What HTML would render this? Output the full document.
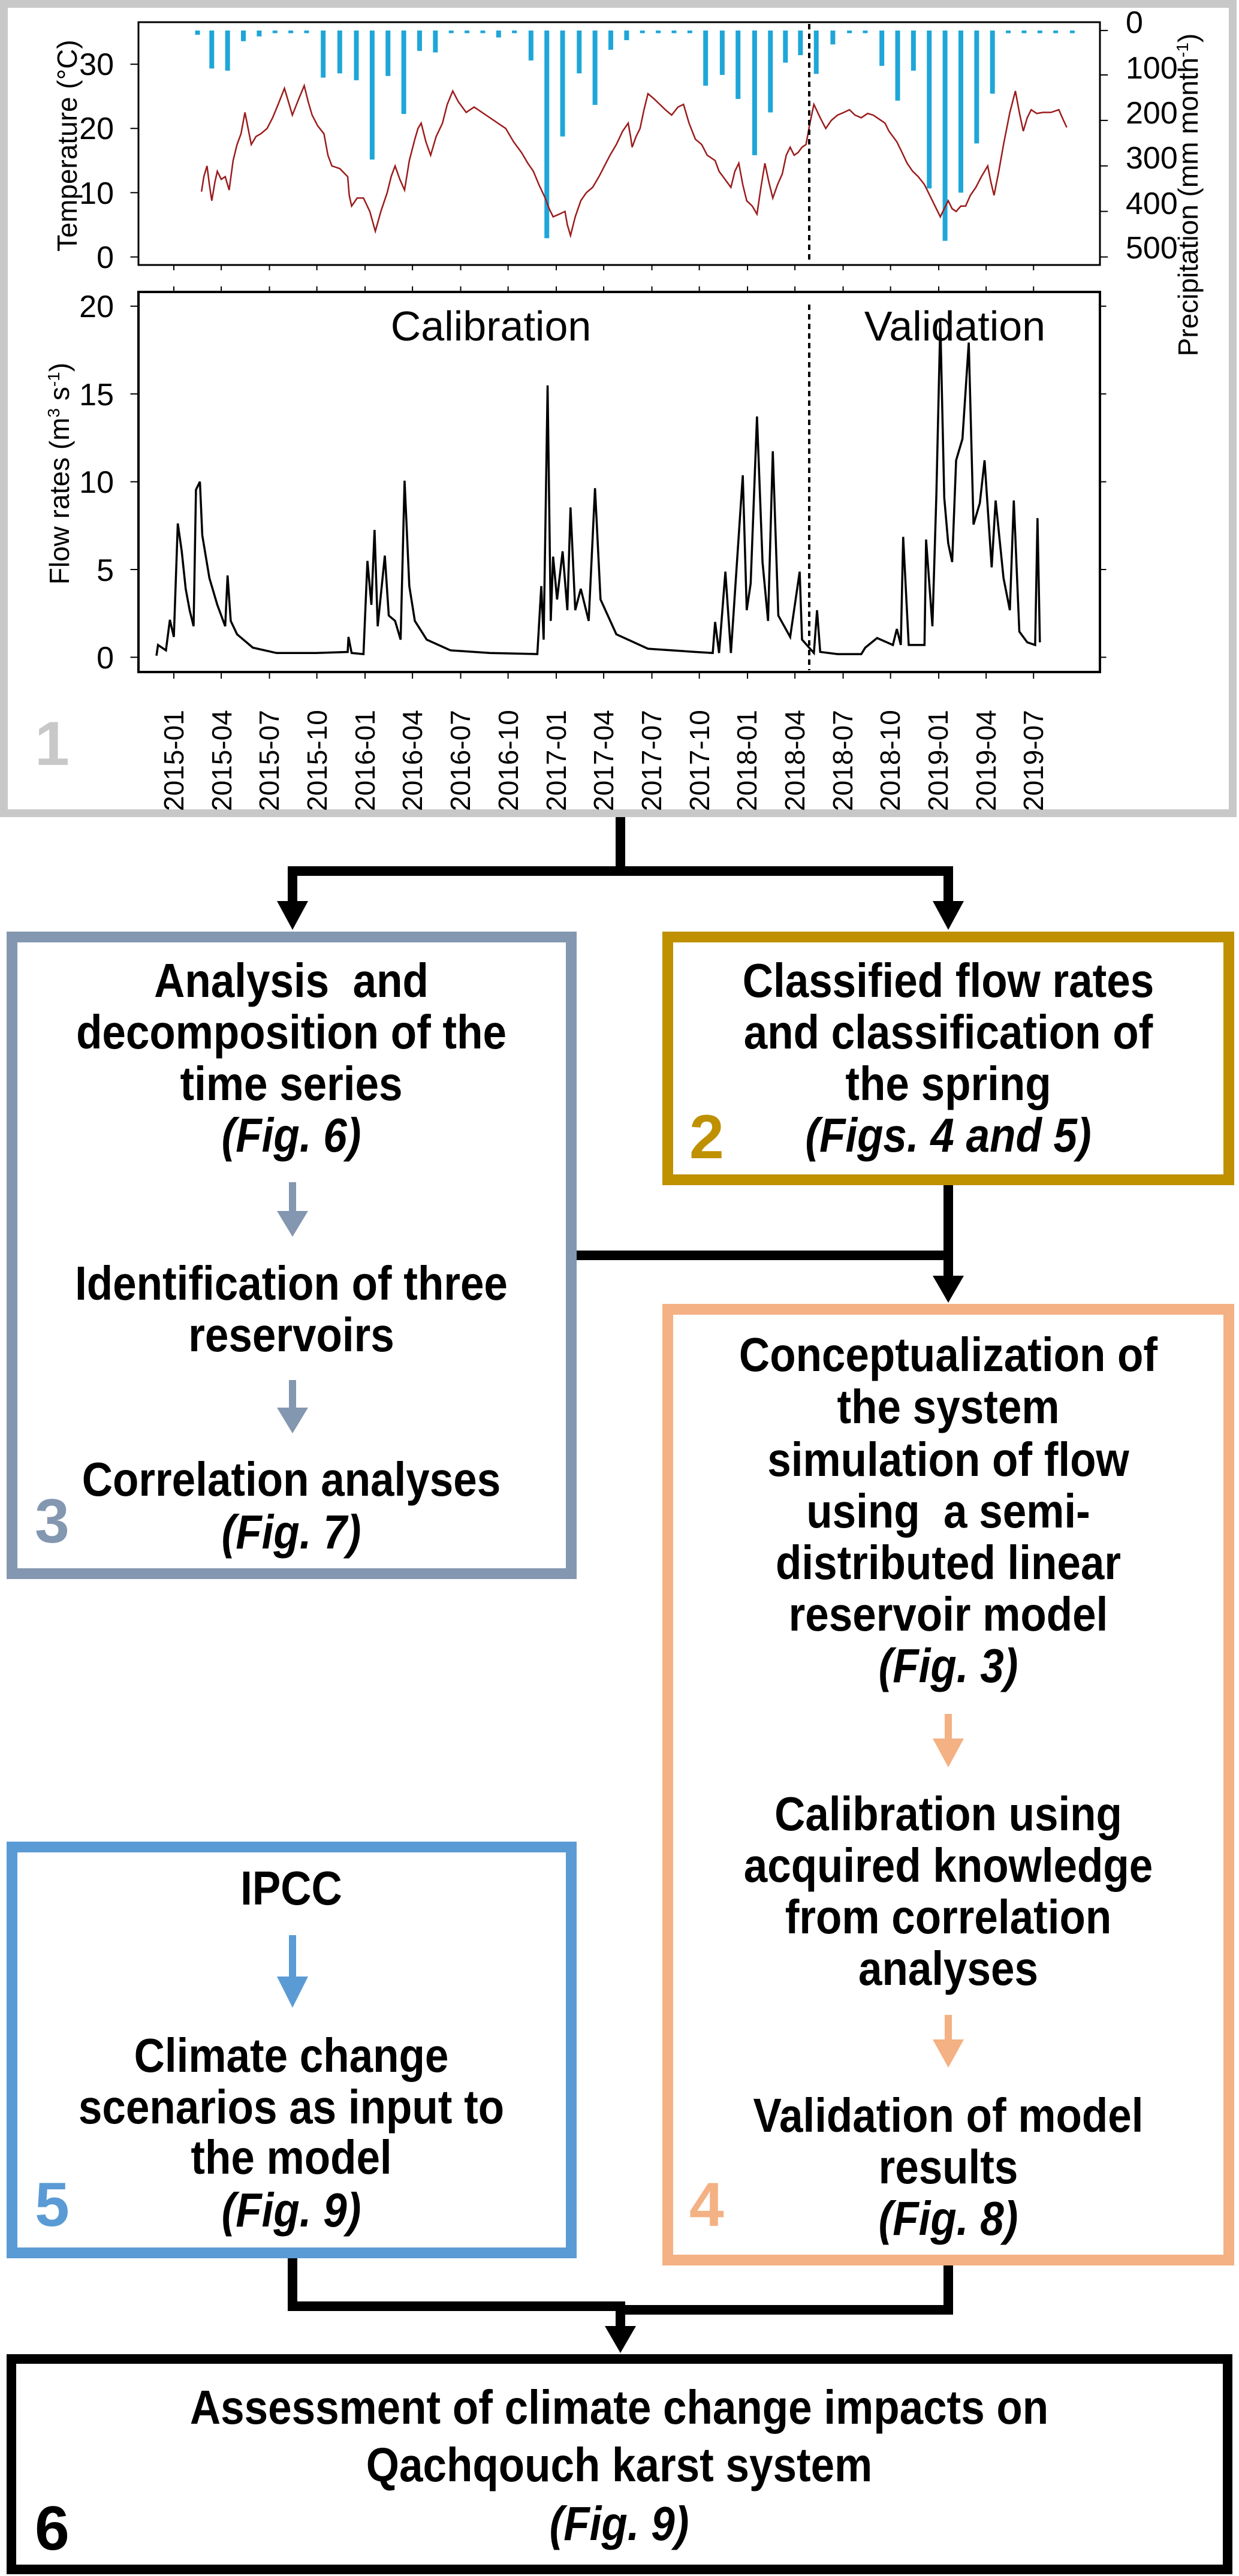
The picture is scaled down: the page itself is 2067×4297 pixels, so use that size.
<!DOCTYPE html>
<html><head><meta charset="utf-8"><style>
html,body{margin:0;padding:0;background:#fff}
body{width:2067px;height:4297px;position:relative;overflow:hidden;font-family:"Liberation Sans",Arial,sans-serif}
.abs{position:absolute}
.box{position:absolute;box-sizing:border-box;background:transparent}
.t{position:absolute;text-align:center;font-weight:bold;font-size:71px;line-height:86px;color:#000;white-space:nowrap;transform:scaleY(1.12)}
.t i{font-style:italic}
.num{position:absolute;font-weight:bold;font-size:104px;line-height:104px}
</style></head><body>

<svg class="abs" style="left:0;top:0" width="2067" height="1400" viewBox="0 0 1568 1568" preserveAspectRatio="none">
<g stroke="#1fa6d8" stroke-width="6" vector-effect="non-scaling-stroke">
<path vector-effect="non-scaling-stroke" stroke-width="8" d="M250 57V65M268 57V128M288 57V132M308 57V77M328 57V68M348 57V62M368 57V62M388 57V62M409 57V145M430 57V137M451 57V150M471 57V298M491 57V142M511 57V213M531 57V95M551 57V98M571 57V62M591 57V62M611 57V62M631 57V70M651 57V62M672 57V113M692 57V445M712 57V255M733 57V137M753 57V196M773 57V93M793 57V75M813 57V62M833 57V62M853 57V62M873 57V62M893 57V160M914 57V140M934 57V185M955 57V290M975 57V210M994 57V117M1013 57V103M1033 57V138M1054 57V83M1075 57V62M1095 57V62M1116 57V123M1136 57V188M1156 57V132M1176 57V352M1196 57V450M1216 57V360M1236 57V268M1256 57V175M1276 57V62M1296 57V62M1316 57V62M1336 57V62M1357 57V62"/>
</g>
<polyline fill="none" stroke="#9b1b1b" stroke-width="2.5" vector-effect="non-scaling-stroke" points="255,358 258,330 262,310 265,345 268,375 272,340 275,320 280,335 285,330 290,355 295,300 300,270 305,250 310,210 314,240 318,270 324,255 330,250 338,240 345,220 352,195 360,165 365,190 370,215 378,185 385,160 390,190 395,215 402,235 410,250 415,290 420,310 430,315 440,330 442,365 445,385 452,370 460,370 468,395 475,432 482,395 490,360 495,330 500,310 506,335 512,355 518,300 525,260 529,240 533,230 539,265 545,290 552,255 560,230 566,195 573,170 580,190 590,210 600,200 610,210 625,225 640,240 650,265 660,285 668,305 675,320 682,345 690,370 695,390 700,405 708,400 715,395 718,420 722,440 728,405 735,375 742,360 750,350 758,330 765,310 772,290 780,270 788,245 795,230 798,255 800,275 805,255 810,240 815,205 820,175 828,185 835,195 842,205 850,215 858,200 865,195 872,230 880,260 888,270 895,290 900,295 905,300 910,320 915,330 920,340 925,350 930,320 935,305 940,345 945,375 952,385 958,400 963,350 968,305 973,340 978,370 984,345 990,325 995,290 1000,275 1005,290 1010,285 1015,275 1020,270 1025,230 1030,195 1038,220 1045,240 1052,225 1060,215 1068,210 1075,205 1082,215 1090,220 1098,212 1105,215 1112,222 1120,230 1125,245 1130,255 1135,265 1140,280 1148,305 1155,320 1162,330 1170,345 1180,375 1190,405 1195,390 1200,375 1205,390 1210,395 1216,385 1222,385 1228,365 1235,350 1242,330 1250,310 1254,340 1258,365 1264,320 1270,270 1278,210 1285,170 1290,210 1295,245 1300,220 1305,205 1312,212 1320,210 1330,210 1340,205 1345,222 1350,238"/>
<polyline fill="none" stroke="#000" stroke-width="3.5" vector-effect="non-scaling-stroke" points="198,1225 200,1205 210,1215 215,1158 220,1190 225,978 230,1030 235,1100 240,1140 245,1170 248,915 253,900 256,1000 265,1080 275,1130 285,1170 288,1075 292,1160 300,1185 320,1210 350,1220 400,1220 440,1218 441,1190 445,1220 460,1222 465,1048 470,1130 474,990 478,1170 487,1038 492,1150 500,1160 507,1195 512,898 518,1095 525,1160 540,1195 570,1215 620,1220 680,1222 685,1095 688,1195 693,720 697,1160 700,1040 705,1120 712,1030 718,1140 722,948 728,1140 735,1100 745,1160 753,912 760,1120 780,1185 820,1212 880,1218 902,1220 905,1162 910,1220 918,1068 925,1220 940,888 945,1140 950,1090 958,778 965,1050 972,1160 978,843 985,1150 1000,1190 1012,1068 1015,1195 1030,1220 1034,1140 1038,1218 1060,1222 1090,1222 1095,1210 1110,1192 1130,1205 1135,1175 1140,1205 1143,1003 1150,1205 1170,1205 1172,1008 1180,1170 1185,925 1190,600 1195,930 1200,1015 1205,1050 1210,860 1218,820 1226,640 1232,980 1240,940 1246,860 1255,1060 1260,935 1270,1080 1278,1140 1283,935 1290,1180 1300,1200 1310,1205 1313,968 1316,1200"/>
<g stroke="#000" stroke-width="2" vector-effect="non-scaling-stroke">
<path vector-effect="non-scaling-stroke" d="M220 495V505M280 495V505M341 495V505M401 495V505M462 495V505M522 495V505M583 495V505M643 495V505M704 495V505M764 495V505M825 495V505M885 495V505M946 495V505M1006 495V505M1067 495V505M1127 495V505M1188 495V505M1248 495V505M1308 495V505 M220 535V545M280 535V545M341 535V545M401 535V545M462 535V545M522 535V545M583 535V545M643 535V545M704 535V545M764 535V545M825 535V545M885 535V545M946 535V545M1006 535V545M1067 535V545M1127 535V545M1188 535V545M1248 535V545M1308 535V545 M220 1255V1268M280 1255V1268M341 1255V1268M401 1255V1268M462 1255V1268M522 1255V1268M583 1255V1268M643 1255V1268M704 1255V1268M764 1255V1268M825 1255V1268M885 1255V1268M946 1255V1268M1006 1255V1268M1067 1255V1268M1127 1255V1268M1188 1255V1268M1248 1255V1268M1308 1255V1268 M165 480H175M165 360H175M165 240H175M165 120H175M1392 57H1402M1392 140H1402M1392 225H1402M1392 310H1402M1392 395H1402M1392 480H1402 M165 1228H175M165 1064H175M165 900H175M165 736H175M165 572H175M1392 1228H1400M1392 1064H1400M1392 900H1400M1392 736H1400M1392 572H1400"/>
</g>
</svg>

<svg class="abs" style="left:0;top:0" width="2067" height="1400">
<rect x="6.5" y="6.5" width="2050" height="1350" fill="none" stroke="#c8c8c8" stroke-width="13"/>
<rect x="231" y="37" width="1604" height="405" fill="none" stroke="#000" stroke-width="3"/>
<rect x="231" y="487" width="1604" height="634" fill="none" stroke="#000" stroke-width="4"/>
<line x1="1350" y1="40" x2="1350" y2="440" stroke="#000" stroke-width="4" stroke-dasharray="9,7"/>
<line x1="1350" y1="508" x2="1350" y2="1118" stroke="#000" stroke-width="4" stroke-dasharray="9,7"/>
<g font-family="Liberation Sans, Arial, sans-serif" font-size="52" fill="#000" text-anchor="end">
<text x="190" y="447">0</text><text x="190" y="340">10</text><text x="190" y="232">20</text><text x="190" y="125">30</text>
<text x="190" y="1115">0</text><text x="190" y="969">5</text><text x="190" y="822">10</text><text x="190" y="676">15</text><text x="190" y="529">20</text>
</g>
<g font-family="Liberation Sans, Arial, sans-serif" font-size="52" fill="#000" text-anchor="start">
<text x="1878" y="55">0</text><text x="1878" y="131">100</text><text x="1878" y="206">200</text><text x="1878" y="281">300</text><text x="1878" y="357">400</text><text x="1878" y="431">500</text>
</g>
<g font-family="Liberation Sans, Arial, sans-serif" font-size="46" fill="#000" text-anchor="middle">
<text transform="translate(128,243) rotate(-90)">Temperature (°C)</text>
<text transform="translate(115,790) rotate(-90)">Flow rates (m<tspan font-size="28" dy="-16">3</tspan><tspan dy="16"> s</tspan><tspan font-size="28" dy="-16">-1</tspan><tspan dy="16">)</tspan></text>
<text transform="translate(1998,325) rotate(-90)">Precipitation (mm month<tspan font-size="28" dy="-16">-1</tspan><tspan dy="16">)</tspan></text>
</g>
<g font-family="Liberation Sans, Arial, sans-serif" font-size="70" fill="#000" text-anchor="middle">
<text x="819" y="568">Calibration</text><text x="1593" y="568">Validation</text>
</g>
<g font-family="Liberation Sans, Arial, sans-serif" font-size="46" fill="#000" text-anchor="start">
<text transform="translate(306,1353) rotate(-90)">2015-01</text>
<text transform="translate(386,1353) rotate(-90)">2015-04</text>
<text transform="translate(465,1353) rotate(-90)">2015-07</text>
<text transform="translate(545,1353) rotate(-90)">2015-10</text>
<text transform="translate(625,1353) rotate(-90)">2016-01</text>
<text transform="translate(704,1353) rotate(-90)">2016-04</text>
<text transform="translate(784,1353) rotate(-90)">2016-07</text>
<text transform="translate(864,1353) rotate(-90)">2016-10</text>
<text transform="translate(944,1353) rotate(-90)">2017-01</text>
<text transform="translate(1023,1353) rotate(-90)">2017-04</text>
<text transform="translate(1103,1353) rotate(-90)">2017-07</text>
<text transform="translate(1183,1353) rotate(-90)">2017-10</text>
<text transform="translate(1262,1353) rotate(-90)">2018-01</text>
<text transform="translate(1342,1353) rotate(-90)">2018-04</text>
<text transform="translate(1422,1353) rotate(-90)">2018-07</text>
<text transform="translate(1501,1353) rotate(-90)">2018-10</text>
<text transform="translate(1581,1353) rotate(-90)">2019-01</text>
<text transform="translate(1661,1353) rotate(-90)">2019-04</text>
<text transform="translate(1740,1353) rotate(-90)">2019-07</text>
</g>
<text x="58" y="1276" font-family="Liberation Sans, Arial, sans-serif" font-weight="bold" font-size="104" fill="#c8c8c8">1</text>
</svg>

<svg class="abs" style="left:0;top:0" width="2067" height="4297">
<g stroke="#000" stroke-width="16" fill="none">
<path d="M1035 1363V1453M480 1453H1590M488 1445V1510M1582 1445V1510"/>
<path d="M1582 1977V2135M962 2094H1590"/>
<path d="M488 3767V3847H1043M1582 3779V3853H1027M1035 3840V3885"/>
</g>
<g fill="#000">
<polygon points="462,1503 514,1503 488,1551"/>
<polygon points="1556,1503 1608,1503 1582,1551"/>
<polygon points="1556,2128 1608,2128 1582,2173"/>
<polygon points="1009,3880 1061,3880 1035,3925"/>
</g>
<g fill="#8497b0">
<rect x="482" y="1972" width="12" height="52"/><polygon points="462,2020 514,2020 488,2063"/>
<rect x="482" y="2302" width="12" height="50"/><polygon points="462,2348 514,2348 488,2391"/>
</g>
<g fill="#f4b183">
<rect x="1576" y="2859" width="12" height="45"/><polygon points="1556,2900 1608,2900 1582,2948"/>
<rect x="1576" y="3361" width="12" height="45"/><polygon points="1556,3402 1608,3402 1582,3449"/>
</g>
<g fill="#5b9bd5">
<rect x="482" y="3228" width="12" height="75"/><polygon points="462,3297 514,3297 488,3349"/>
</g>
</svg>

<div class="box" style="left:11px;top:1554px;width:951px;height:1080px;border:18px solid #8497b0"></div>
<div class="box" style="left:1105px;top:1554px;width:954px;height:423px;border:18px solid #bf9000"></div>
<div class="box" style="left:1105px;top:2175px;width:954px;height:1604px;border:18px solid #f4b183"></div>
<div class="box" style="left:11px;top:3072px;width:951px;height:695px;border:18px solid #5b9bd5"></div>
<div class="box" style="left:11px;top:3927px;width:2045px;height:367px;border:16px solid #000"></div>

<div class="t" style="left:86px;width:800px;top:1594px">Analysis&nbsp; and</div>
<div class="t" style="left:86px;width:800px;top:1680px">decomposition of the</div>
<div class="t" style="left:86px;width:800px;top:1766px">time series</div>
<div class="t" style="left:86px;width:800px;top:1852px"><i>(Fig. 6)</i></div>
<div class="t" style="left:86px;width:800px;top:2099px">Identification of three</div>
<div class="t" style="left:86px;width:800px;top:2185px">reservoirs</div>
<div class="t" style="left:86px;width:800px;top:2426px">Correlation analyses</div>
<div class="t" style="left:86px;width:800px;top:2514px"><i>(Fig. 7)</i></div>
<div class="num" style="left:58px;top:2486px;color:#8497b0">3</div>

<div class="t" style="left:1182px;width:800px;top:1594px">Classified flow rates</div>
<div class="t" style="left:1182px;width:800px;top:1680px">and classification of</div>
<div class="t" style="left:1182px;width:800px;top:1766px">the spring</div>
<div class="t" style="left:1182px;width:800px;top:1852px"><i>(Figs. 4 and 5)</i></div>
<div class="num" style="left:1150px;top:1845px;color:#bf9000">2</div>

<div class="t" style="left:1182px;width:800px;top:2218px">Conceptualization of</div>
<div class="t" style="left:1182px;width:800px;top:2305px">the system</div>
<div class="t" style="left:1182px;width:800px;top:2393px">simulation of flow</div>
<div class="t" style="left:1182px;width:800px;top:2479px">using&nbsp; a semi-</div>
<div class="t" style="left:1182px;width:800px;top:2565px">distributed linear</div>
<div class="t" style="left:1182px;width:800px;top:2651px">reservoir model</div>
<div class="t" style="left:1182px;width:800px;top:2737px"><i>(Fig. 3)</i></div>
<div class="t" style="left:1182px;width:800px;top:2984px">Calibration using</div>
<div class="t" style="left:1182px;width:800px;top:3070px">acquired knowledge</div>
<div class="t" style="left:1182px;width:800px;top:3156px">from correlation</div>
<div class="t" style="left:1182px;width:800px;top:3242px">analyses</div>
<div class="t" style="left:1182px;width:800px;top:3487px">Validation of model</div>
<div class="t" style="left:1182px;width:800px;top:3573px">results</div>
<div class="t" style="left:1182px;width:800px;top:3659px"><i>(Fig. 8)</i></div>
<div class="num" style="left:1150px;top:3626px;color:#f4b183">4</div>

<div class="t" style="left:86px;width:800px;top:3108px">IPCC</div>
<div class="t" style="left:86px;width:800px;top:3387px">Climate change</div>
<div class="t" style="left:86px;width:800px;top:3473px">scenarios as input to</div>
<div class="t" style="left:86px;width:800px;top:3557px">the model</div>
<div class="t" style="left:86px;width:800px;top:3645px"><i>(Fig. 9)</i></div>
<div class="num" style="left:58px;top:3626px;color:#5b9bd5">5</div>

<div class="t" style="left:133px;width:1800px;top:3974px">Assessment of climate change impacts on</div>
<div class="t" style="left:133px;width:1800px;top:4070px">Qachqouch karst system</div>
<div class="t" style="left:133px;width:1800px;top:4168px"><i>(Fig. 9)</i></div>
<div class="num" style="left:58px;top:4166px;color:#000">6</div>

</body></html>
